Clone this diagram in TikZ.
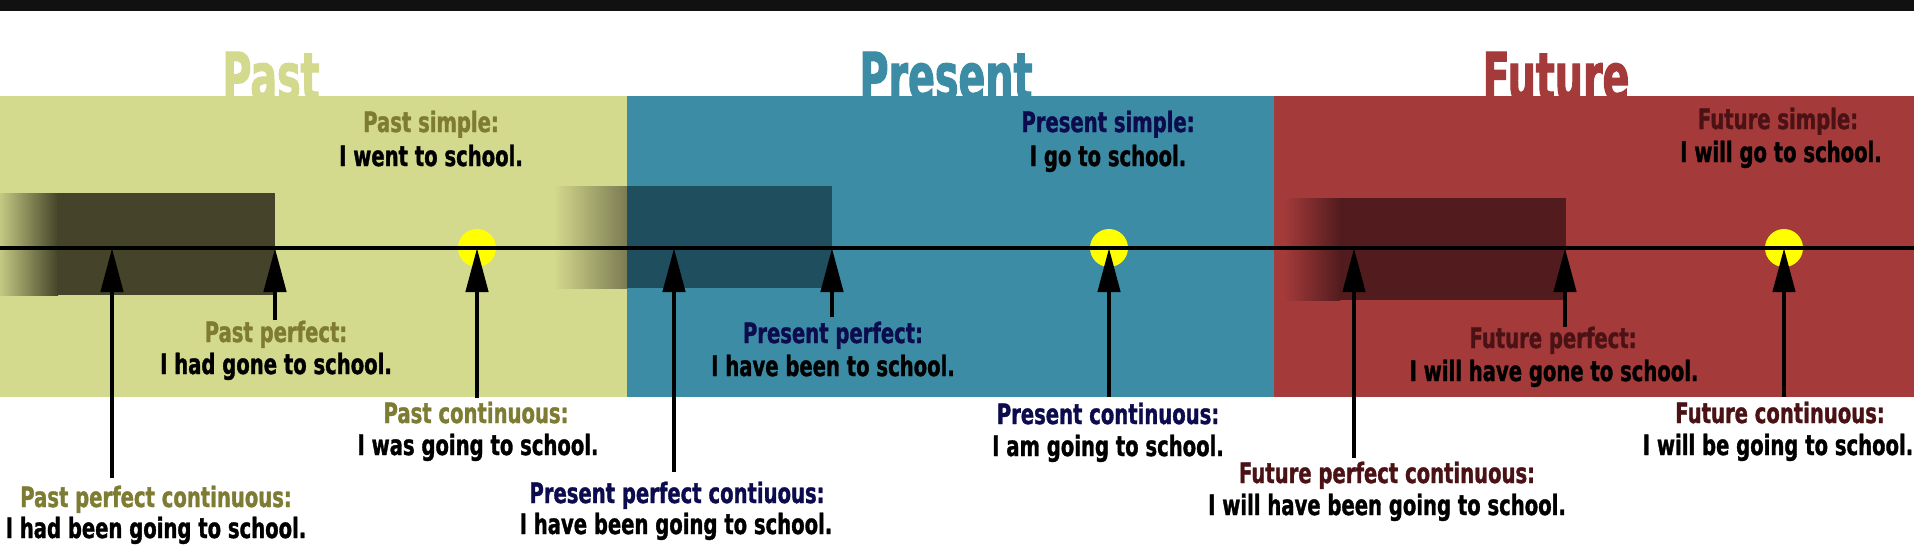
\documentclass[tikz,border=0pt]{standalone}
\usepackage{fontspec}
\usetikzlibrary{arrows.meta}
\newfontfamily\imp{DejaVu Sans}[FakeStretch=0.7,FakeBold=1.2]
\newfontfamily\impt{DejaVu Sans}[FakeStretch=0.6,FakeBold=1.5]
\definecolor{pastbg}{HTML}{D4DA8D}
\definecolor{presbg}{HTML}{3C8CA5}
\definecolor{futbg}{HTML}{A53A3A}
\definecolor{pastdk}{HTML}{45442A}
\definecolor{presdk}{HTML}{1F4F5E}
\definecolor{presfd}{HTML}{7A7A52}
\definecolor{futdk}{HTML}{521C1E}
\definecolor{pastlb}{HTML}{7E7B33}
\definecolor{preslb}{HTML}{0B0B4D}
\definecolor{futlb}{HTML}{4A1214}
\definecolor{topbar}{HTML}{111111}
\definecolor{dotc}{HTML}{FFFF00}
\begin{document}
\begin{tikzpicture}[x=1pt,y=-1pt,
  lbl/.style={anchor=base,inner sep=0pt,font={\imp\bfseries\fontsize{28}{30}\selectfont}},
  sent/.style={lbl,text=black},
  ttl/.style={anchor=base,inner sep=0pt,font={\impt\bfseries\fontsize{66}{70}\selectfont}},
  arr/.style={line width=4.5pt,draw=black,-{Triangle[width=22pt,length=44pt]}},
  dot/.style={circle,fill=dotc,minimum size=38pt,inner sep=0pt}]
\useasboundingbox (0,0) rectangle (1914,549);
\fill[white] (0,0) rectangle (1914,549);
\fill[topbar] (0,0) rectangle (1914,11);
% titles (partly hidden by panels)
\node[ttl,text=pastbg] (tpast) at (271,100) {Past};
\node[ttl,text=presbg] (tpres) at (946,100) {Present};
\node[ttl,text=futbg] (tfut) at (1556,100) {Future};
% panels
\fill[pastbg] (0,96) rectangle (627,397);
\fill[presbg] (627,96) rectangle (1274,397);
\fill[futbg] (1274,96) rectangle (1914,397);
% dark duration bars
\shade[left color=pastbg!92!black,right color=pastdk] (0,193) rectangle (58,295);
\fill[pastdk] (57,193) rectangle (275,295);
\shade[left color=pastbg,right color=presfd] (553,186) rectangle (628,288);
\fill[presdk] (627,186) rectangle (832,288);
\shade[left color=futbg,right color=futdk] (1284,198) rectangle (1340,300);
\fill[futdk] (1339,198) rectangle (1566,300);
% yellow dots
\node[dot] (dpast) at (477,248) {};
\node[dot] (dpres) at (1109,248) {};
\node[dot] (dfut) at (1784,248) {};
% timeline
\coordinate (tl0) at (0,248);
\coordinate (tl1) at (1914,248);
\draw[line width=4.5pt] (tl0) -- (tl1);
% arrow ends on the timeline
\coordinate (e1) at (112,248);
\coordinate (e2) at (275,248);
\coordinate (e4) at (674,248);
\coordinate (e5) at (832,248);
\coordinate (e7) at (1354,248);
\coordinate (e8) at (1565,248);
% arrow free ends
\coordinate (b1) at (112,478);
\coordinate (b2) at (275,320);
\coordinate (b3) at (477,398);
\coordinate (b4) at (674,472);
\coordinate (b5) at (832,317);
\coordinate (b6) at (1109,397);
\coordinate (b7) at (1354,458);
\coordinate (b8) at (1565,327);
\coordinate (b9) at (1784,397);
\draw[arr] (b1) -- (e1);
\draw[arr] (b2) -- (e2);
\draw[arr] (b3) -- (dpast.center);
\draw[arr] (b4) -- (e4);
\draw[arr] (b5) -- (e5);
\draw[arr] (b6) -- (dpres.center);
\draw[arr] (b7) -- (e7);
\draw[arr] (b8) -- (e8);
\draw[arr] (b9) -- (dfut.center);
% texts: past
\node[lbl,text=pastlb] (psl) at (431,132) {Past simple:};
\node[sent] (pss) at (431,166) {I went to school.};
\node[lbl,text=pastlb] (ppl) at (276,342) {Past perfect:};
\node[sent] (pps) at (276,374) {I had gone to school.};
\node[lbl,text=pastlb] (pcl) at (476,423) {Past continuous:};
\node[sent] (pcs) at (478,455) {I was going to school.};
\node[lbl,text=pastlb] (ppcl) at (156,507) {Past perfect continuous:};
\node[sent] (ppcs) at (156,538) {I had been going to school.};
% texts: present
\node[lbl,text=preslb] (rsl) at (1108,132) {Present simple:};
\node[sent] (rss) at (1108,166) {I go to school.};
\node[lbl,text=preslb] (rpl) at (833,343) {Present perfect:};
\node[sent] (rps) at (833,376) {I have been to school.};
\node[lbl,text=preslb] (rcl) at (1108,424) {Present continuous:};
\node[sent] (rcs) at (1108,456) {I am going to school.};
\node[lbl,text=preslb] (rpcl) at (677,503) {Present perfect contiuous:};
\node[sent] (rpcs) at (676,534) {I have been going to school.};
% texts: future
\node[lbl,text=futlb] (fsl) at (1778,129) {Future simple:};
\node[sent] (fss) at (1781,162) {I will go to school.};
\node[lbl,text=futlb] (fpl) at (1553,348) {Future perfect:};
\node[sent] (fps) at (1554,381) {I will have gone to school.};
\node[lbl,text=futlb] (fcl) at (1780,423) {Future continuous:};
\node[sent] (fcs) at (1778,455) {I will be going to school.};
\node[lbl,text=futlb] (fpcl) at (1387,483) {Future perfect continuous:};
\node[sent] (fpcs) at (1387,515) {I will have been going to school.};
\end{tikzpicture}
\end{document}
